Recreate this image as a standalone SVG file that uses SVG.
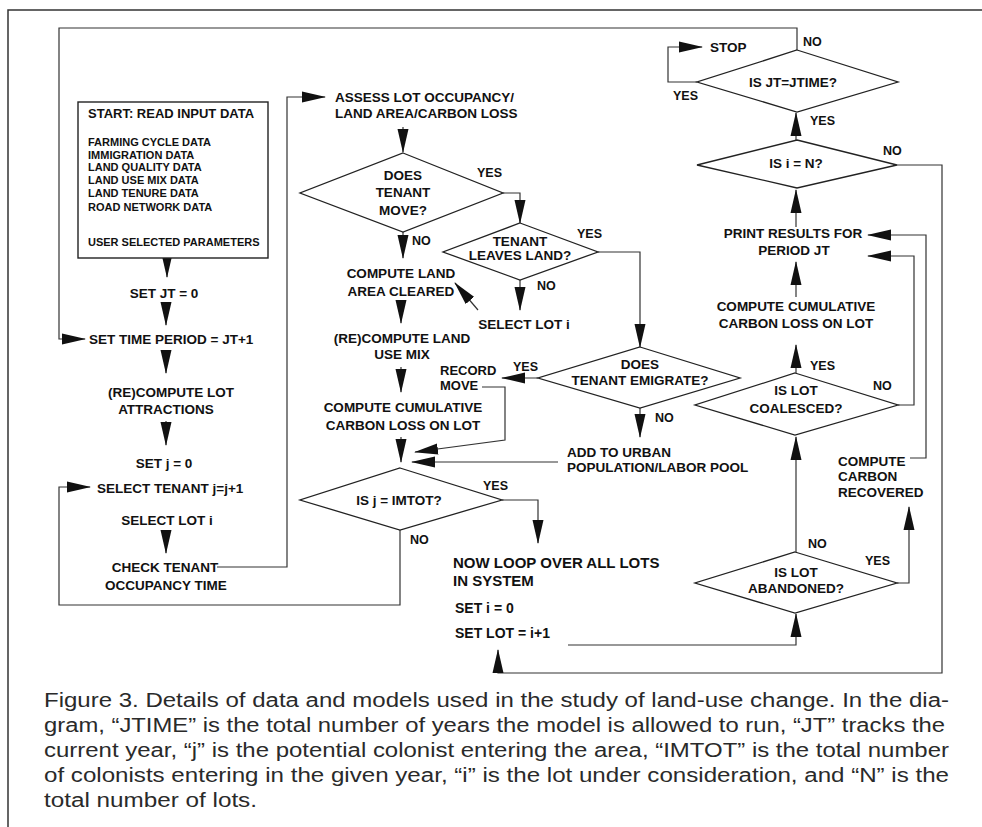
<svg xmlns="http://www.w3.org/2000/svg" width="982" height="827" viewBox="0 0 982 827">
<defs>
<style>
.t{font-family:"Liberation Sans",Arial,sans-serif;font-weight:bold;font-size:13.5px;fill:#111}
.m{text-anchor:middle}
.s{font-size:11px}
.h{font-size:13px}
.l{font-size:12.5px}
.p{font-size:15px}
.q{font-size:14px}
.d{fill:#fff;stroke:#222;stroke-width:1.3}
.b{fill:#fff;stroke:#222;stroke-width:1.4}
.c{fill:none;stroke:#333;stroke-width:1.2;marker-end:url(#ah)}
.f{fill:none;stroke:#333;stroke-width:1.5}
.cap{font-family:"Liberation Sans",Arial,sans-serif;font-size:19.5px;fill:#2a2a2a}
</style>
<marker id="ah" markerUnits="userSpaceOnUse" markerWidth="24" markerHeight="12" refX="23" refY="6" orient="auto">
<path d="M0,0.5 L24,6 L0,11.5 z" fill="#111"/>
</marker>
</defs>
<rect width="982" height="827" fill="#fff"/>
<g id="frame">
<path class="f" d="M982,10 H8 V827"/>
</g>
<g id="connectors">
<path class="c" d="M167,258 V277"/>
<path class="c" d="M166,302 V325"/>
<path class="c" d="M166,350 V373"/>
<path class="c" d="M166,421 V445"/>
<path class="c" d="M166,530 V553"/>
<path class="c" d="M217,567 H287 V97 H325"/>
<path class="c" d="M400,530 V605 H59 V487 H90"/>
<path class="c" d="M797,50 V28 H59 V339 H85"/>
<path class="c" d="M403,127 V152"/>
<path class="c" d="M403,232 V258"/>
<path class="c" d="M503,193 H520 V223"/>
<path class="c" d="M520,280 V310"/>
<path class="c" d="M478,310 L455,283"/>
<path class="c" d="M598,252 H640 V347"/>
<path class="c" d="M401,300 V323"/>
<path class="c" d="M401,367 V392"/>
<path class="c" d="M401,437 V462"/>
<path class="c" d="M538,378 H502"/>
<path class="c" d="M482,387 H505 V440 L415,452"/>
<path class="c" d="M558,462 H412"/>
<path class="c" d="M640,408 V437"/>
<path class="c" d="M502,500 H538 V543"/>
<path class="c" d="M568,645 H796 V614"/>
<path class="c" d="M897,165 H942 V673 H498 V650"/>
<path class="c" d="M796,552 V437"/>
<path class="c" d="M897,583 H909 V507"/>
<path class="c" d="M796,373 V345"/>
<path class="c" d="M796,297 V262"/>
<path class="c" d="M898,405 H914 V256 H868"/>
<path class="c" d="M910,458 H926 V235 H868"/>
<path class="c" d="M796,227 V190"/>
<path class="c" d="M796,140 V113"/>
<path class="c" d="M697,82 H668 V47 H702"/>
</g>
<g id="start">
<rect class="b" x="78" y="102" width="190" height="156"/>
<text class="t h" x="88" y="118">START: READ INPUT DATA</text>
<text class="t s" x="88" y="146">FARMING CYCLE DATA</text>
<text class="t s" x="88" y="159">IMMIGRATION DATA</text>
<text class="t s" x="88" y="171">LAND QUALITY DATA</text>
<text class="t s" x="88" y="184">LAND USE MIX DATA</text>
<text class="t s" x="88" y="197">LAND TENURE DATA</text>
<text class="t s" x="88" y="211">ROAD NETWORK DATA</text>
<text class="t s" x="88" y="246">USER SELECTED PARAMETERS</text>
</g>
<g id="setjt"><text class="t m" x="164" y="298">SET JT = 0</text></g>
<g id="settime"><text class="t" x="89" y="344">SET TIME PERIOD = JT+1</text></g>
<g id="recomputelot"><text class="t m" x="171" y="397">(RE)COMPUTE LOT</text><text class="t m" x="166" y="414">ATTRACTIONS</text></g>
<g id="setj"><text class="t m" x="164" y="468">SET j = 0</text></g>
<g id="selecttenant"><text class="t" x="97" y="493">SELECT TENANT j=j+1</text></g>
<g id="selectlot1"><text class="t m" x="167" y="525">SELECT LOT i</text></g>
<g id="checktenant"><text class="t m" x="165" y="572">CHECK TENANT</text><text class="t m" x="166" y="590">OCCUPANCY TIME</text></g>
<g id="assess"><text class="t" x="335" y="102">ASSESS LOT OCCUPANCY/</text><text class="t" x="335" y="118">LAND AREA/CARBON LOSS</text></g>
<g id="tenantmove">
<polygon class="d" points="403,153 503,193 403,232 300,193"/>
<text class="t m" x="403" y="180">DOES</text><text class="t m" x="403" y="197">TENANT</text><text class="t m" x="403" y="215">MOVE?</text>
</g>
<g id="leavesland">
<polygon class="d" points="520,223 598,252 520,280 443,252"/>
<text class="t m" x="520" y="246">TENANT</text><text class="t m" x="520" y="260">LEAVES LAND?</text>
</g>
<g id="computeland"><text class="t m" x="401" y="278">COMPUTE LAND</text><text class="t m" x="401" y="296">AREA CLEARED</text></g>
<g id="selectlot2"><text class="t m" x="524" y="329">SELECT LOT i</text></g>
<g id="recomputeland"><text class="t m" x="402" y="343">(RE)COMPUTE LAND</text><text class="t m" x="402" y="359">USE MIX</text></g>
<g id="recordmove"><text class="t h" x="440" y="375">RECORD</text><text class="t h" x="440" y="389.5">MOVE</text></g>
<g id="emigrate">
<polygon class="d" points="640,347 740,378 640,408 538,378"/>
<text class="t m" x="640" y="369">DOES</text><text class="t m" x="640" y="385">TENANT EMIGRATE?</text>
</g>
<g id="cumulative1"><text class="t m" x="403" y="412">COMPUTE CUMULATIVE</text><text class="t m" x="403" y="430">CARBON LOSS ON LOT</text></g>
<g id="addurban"><text class="t" x="567" y="457">ADD TO URBAN</text><text class="t" x="567" y="472">POPULATION/LABOR POOL</text></g>
<g id="imtot">
<polygon class="d" points="400,468 502,500 400,530 300,500"/>
<text class="t m" x="399" y="505">IS j = IMTOT?</text>
</g>
<g id="loop">
<text class="t p" x="453" y="567.5">NOW LOOP OVER ALL LOTS</text>
<text class="t p" x="453" y="585.5">IN SYSTEM</text>
<text class="t q" x="455" y="613">SET i = 0</text>
<text class="t q" x="455" y="638">SET LOT = i+1</text>
</g>
<g id="stop"><text class="t" x="710" y="52">STOP</text></g>
<g id="jtime">
<polygon class="d" points="797,50 898,82 797,112 697,82"/>
<text class="t m" x="793" y="87">IS JT=JTIME?</text>
</g>
<g id="isn">
<polygon class="d" points="797,140 897,165 797,188 697,165"/>
<text class="t m" x="796" y="168">IS i = N?</text>
</g>
<g id="print"><text class="t m" x="793" y="238">PRINT RESULTS FOR</text><text class="t m" x="794" y="255">PERIOD JT</text></g>
<g id="cumulative2"><text class="t m" x="796" y="311">COMPUTE CUMULATIVE</text><text class="t m" x="796" y="328">CARBON LOSS ON LOT</text></g>
<g id="coalesced">
<polygon class="d" points="795,373 898,405 795,435 695,405"/>
<text class="t m" x="796" y="395">IS LOT</text><text class="t m" x="796" y="413">COALESCED?</text>
</g>
<g id="recovered"><text class="t" x="838" y="466">COMPUTE</text><text class="t" x="838" y="481">CARBON</text><text class="t" x="838" y="497">RECOVERED</text></g>
<g id="abandoned">
<polygon class="d" points="795,552 897,583 795,613 695,583"/>
<text class="t m" x="796" y="577">IS LOT</text><text class="t m" x="796" y="593">ABANDONED?</text>
</g>
<g id="labels">
<text class="t l" x="803" y="46">NO</text>
<text class="t l" x="673" y="100">YES</text>
<text class="t l" x="810" y="125">YES</text>
<text class="t l" x="883" y="155">NO</text>
<text class="t l" x="810" y="370">YES</text>
<text class="t l" x="873" y="390">NO</text>
<text class="t l" x="808" y="548">NO</text>
<text class="t l" x="865" y="565">YES</text>
<text class="t l" x="477" y="177">YES</text>
<text class="t l" x="412" y="245">NO</text>
<text class="t l" x="577" y="238">YES</text>
<text class="t l" x="537" y="290">NO</text>
<text class="t l" x="513" y="371">YES</text>
<text class="t l" x="655" y="422">NO</text>
<text class="t l" x="483" y="490">YES</text>
<text class="t l" x="410" y="544">NO</text>
</g>
<g id="caption">
<text class="cap" x="44" y="707" textLength="905" lengthAdjust="spacingAndGlyphs">Figure 3. Details of data and models used in the study of land-use change. In the dia-</text>
<text class="cap" x="44" y="732" textLength="901" lengthAdjust="spacingAndGlyphs">gram, “JTIME” is the total number of years the model is allowed to run, “JT” tracks the</text>
<text class="cap" x="44" y="757" textLength="905" lengthAdjust="spacingAndGlyphs">current year, “j” is the potential colonist entering the area, “IMTOT” is the total number</text>
<text class="cap" x="44" y="782" textLength="905" lengthAdjust="spacingAndGlyphs">of colonists entering in the given year, “i” is the lot under consideration, and “N” is the</text>
<text class="cap" x="44" y="807" textLength="213" lengthAdjust="spacingAndGlyphs">total number of lots.</text>
</g>
</svg>
